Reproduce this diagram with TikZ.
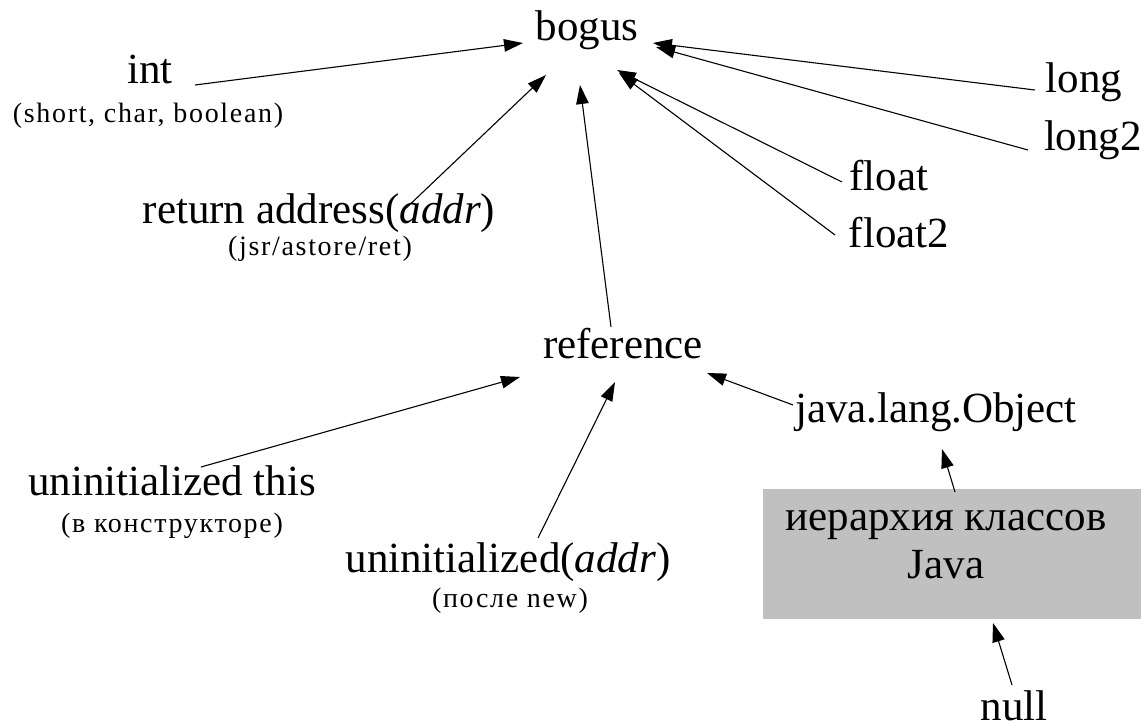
\documentclass[tikz,border=0pt]{standalone}
\usepackage{fontspec}
\setmainfont{Liberation Serif}
\newfontfamily\smallfont[LetterSpace=6]{Liberation Serif}
\usetikzlibrary{arrows.meta,calc}
\tikzset{
  mainlbl/.style={inner sep=0pt, anchor=base, font=\fontsize{43}{48}\selectfont},
  sublbl/.style={inner sep=0pt, anchor=base, font=\smallfont\fontsize{28}{32}\selectfont},
  hierbox/.style={rectangle, fill=hiergray, draw=none, minimum width=378pt, minimum height=130pt, inner sep=0pt},
  conn/.style={line width=1.1pt, -{Triangle[length=19pt,width=12.5pt]}}
}
\definecolor{hiergray}{RGB}{192,192,192}
\begin{document}
\begin{tikzpicture}[x=1pt,y=-1pt]
\useasboundingbox (0,0) rectangle (1144,728);
% nodes
\node[mainlbl] (bogus) at (587,40) {bogus};
\node[mainlbl] (int) at (150,83) {int};
\node[sublbl] (intsub) at (148,122) {(short, char, boolean)};
\node[mainlbl] (long) at (1084,92) {long};
\node[mainlbl] (long2) at (1093,150) {long2};
\node[mainlbl] (float) at (889,190) {float};
\node[mainlbl] (float2) at (899,247) {float2};
\node[mainlbl] (ret) at (319,223) {return address(\textit{addr})};
\node[sublbl] (retsub) at (320,255) {(jsr/astore/ret)};
\node[mainlbl] (ref) at (623,358) {reference};
\node[mainlbl] (obj) at (936,422) {java.lang.Object};
\node[mainlbl] (uthis) at (172,495) {uninitialized this};
\node[sublbl] (uthissub) at (172,532) {(в конструкторе)};
\node[mainlbl] (uaddr) at (508,572) {uninitialized(\textit{addr})};
\node[sublbl] (uaddrsub) at (510,607) {(после new)};
\node[hierbox] (hier) at (952,554) {};
\node[mainlbl] (hier1) at (946,530) {иерархия классов};
\node[mainlbl] (hier2) at (946,578) {Java};
\node[mainlbl] (null) at (1014,720) {null};
% connectors
\draw[conn] ($(int.base)+(45,2)$) -- ($(bogus.base)+(-64,3)$);
\draw[conn] ($(long.base)+(-49,-2)$) -- ($(bogus.base)+(66,3)$);
\draw[conn] ($(long2.base)+(-65,0)$) -- ($(bogus.base)+(69,7)$);
\draw[conn] ($(float.base)+(-47,-8)$) -- ($(bogus.base)+(30,30)$);
\draw[conn] ($(float2.base)+(-64,-12)$) -- ($(bogus.base)+(32,33)$);
\draw[conn] ($(ret.base)+(83,-11)$) -- ($(bogus.base)+(-41,35)$);
\draw[conn] ($(ref.base)+(-12,-31)$) -- ($(bogus.base)+(-7,45)$);
\draw[conn] ($(uthis.base)+(29,-28)$) -- ($(ref.base)+(-103,19)$);
\draw[conn] ($(uaddr.base)+(30,-34)$) -- ($(ref.base)+(-8,24)$);
\draw[conn] ($(obj.base)+(-143,-17)$) -- ($(ref.base)+(84,15)$);
\draw[conn] ($(hier.center)+(3,-62)$) -- ($(obj.base)+(6,27)$);
\draw[conn] ($(null.base)+(-2,-35)$) -- ($(hier.center)+(41,69)$);
\end{tikzpicture}
\end{document}
